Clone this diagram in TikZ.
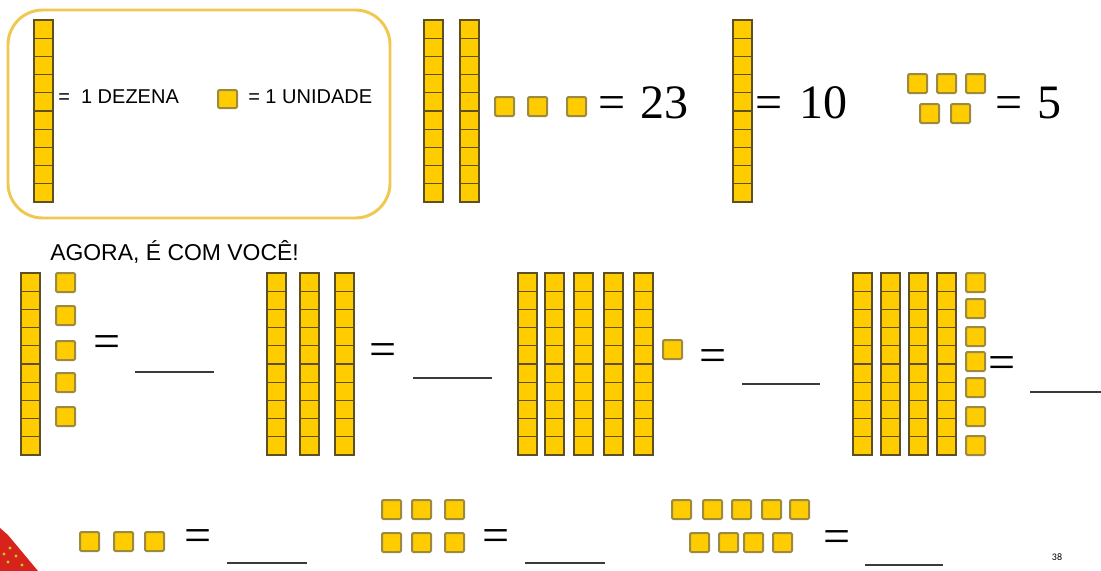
\documentclass[tikz,border=0pt]{standalone}
\usepackage{fontspec}
\setmainfont{Liberation Serif}
\setsansfont{Liberation Sans}
\newfontfamily\pagefont{Carlito}
\definecolor{cube}{HTML}{FFCC00}
\definecolor{rodedge}{HTML}{5E5020}
\definecolor{unitedge}{HTML}{9C8A40}
\definecolor{boxedge}{HTML}{F0C850}
\definecolor{blankline}{HTML}{3A3A3A}
\definecolor{cornerred}{HTML}{D8231C}
\newcommand{\dezena}[2]{%
  \draw[rodbox] (#1,#2) rectangle ++(19,182);
  \foreach \k in {1,...,9}{\draw[rodline] (#1,#2+18.2*\k) -- ++(19,0);}}
\newcommand{\unidade}[2]{\draw[unitbox] (#1,#2) rectangle ++(19,19);}
\begin{document}
\begin{tikzpicture}[x=0.75pt,y=-0.75pt,
  rodbox/.style={fill=cube,draw=rodedge,line width=1.1pt},
  rodline/.style={draw=rodedge,line width=0.8pt},
  unitbox/.style={fill=cube,draw=unitedge,line width=1.5pt,rounded corners=1pt},
  legtext/.style={inner sep=0pt,font=\sffamily\fontsize{15}{18}\selectfont},
  bignum/.style={inner sep=0pt,anchor=base,font=\fontsize{36}{40}\selectfont},
  blank/.style={draw=blankline,line width=1.5pt},
  legendbox/.style={draw=boxedge,line width=2.2pt,rounded corners=26pt}]
\useasboundingbox (0,0) rectangle (1101,571);
\fill[white] (0,0) rectangle (1101,571);
% legend
\draw[legendbox] (8,10) rectangle (390,218);
\dezena{34}{20}
\node[legtext,anchor=base west] (dez) at (58,103) {=\ \ 1 DEZENA};
\draw[unitbox] (218,90) rectangle ++(19,18);
\node[legtext,anchor=base west] (uni) at (248,103) {= 1 UNIDADE};
% 23
\dezena{424}{20}\dezena{460}{20}
\unidade{495}{97}\unidade{528}{97}\unidade{567}{97}
\node[bignum] (eqa) at (612,118) {=};
\node[bignum] (n23) at (664,118) {23};
% 10
\dezena{733}{20}
\node[bignum] (eqb) at (769,118) {=};
\node[bignum] (n10) at (823.5,118) {10};
% 5
\unidade{908}{74}\unidade{937}{74}\unidade{966}{74}
\unidade{920}{104}\unidade{951}{104}
\node[bignum] (eqc) at (1009,118) {=};
\node[bignum] (n5) at (1049,118) {5};
% heading
\node[inner sep=0pt,anchor=base west,font=\sffamily\fontsize{17.2}{20}\selectfont] (agora) at (50,260) {AGORA, É COM VOCÊ!};
% row 2, group 1
\dezena{21}{273}
\foreach \yy in {273,306,341,373,407}{\unidade{56}{\yy}}
\node[bignum] (eq1) at (107,357) {=};
\coordinate (l1a) at (135,372); \coordinate (l1b) at (214,372);
\draw[blank] (l1a) -- (l1b);
% group 2
\dezena{267}{273}\dezena{300}{273}\dezena{335}{273}
\node[bignum] (eq2) at (383.5,365) {=};
\coordinate (l2a) at (413,378); \coordinate (l2b) at (492,378);
\draw[blank] (l2a) -- (l2b);
% group 3
\dezena{518}{273}\dezena{545}{273}\dezena{574}{273}\dezena{604}{273}\dezena{634}{273}
\unidade{663}{340}
\node[bignum] (eq3) at (713.5,371) {=};
\coordinate (l3a) at (742,384); \coordinate (l3b) at (820,384);
\draw[blank] (l3a) -- (l3b);
% group 4
\dezena{853}{273}\dezena{881}{273}\dezena{909}{273}\dezena{937}{273}
\foreach \yy in {273,299,327,352,378,407,436}{\unidade{966}{\yy}}
\node[bignum] (eq4) at (1002.5,378) {=};
\coordinate (l4a) at (1030,392); \coordinate (l4b) at (1101,392);
\draw[blank] (l4a) -- (l4b);
% row 3
\unidade{80}{532}\unidade{114}{532}\unidade{145}{532}
\node[bignum] (eq5) at (198.5,551) {=};
\coordinate (l5a) at (227,563); \coordinate (l5b) at (307,563);
\draw[blank] (l5a) -- (l5b);
\foreach \xx in {382,412,445}{\unidade{\xx}{500}\unidade{\xx}{533}}
\node[bignum] (eq6) at (496,551) {=};
\coordinate (l6a) at (525,563); \coordinate (l6b) at (605,563);
\draw[blank] (l6a) -- (l6b);
\foreach \xx in {672,703,732,762,790}{\unidade{\xx}{500}}
\foreach \xx in {690,719,744,773}{\unidade{\xx}{533}}
\node[bignum] (eq7) at (837,552) {=};
\coordinate (l7a) at (865,565); \coordinate (l7b) at (943,565);
\draw[blank] (l7a) -- (l7b);
% corner decoration
\fill[cornerred] (0,528) -- (8,535) -- (38,571) -- (0,571) -- cycle;
\foreach \p in {(10,548),(16,556),(8,562),(22,565),(4,554)}{\fill[yellow!70!green] \p circle (1.6);}
% page number
\node[inner sep=0pt,font=\pagefont\fontsize{7.5}{9}\selectfont] (pg) at (1057,557) {38};
\end{tikzpicture}
\end{document}
